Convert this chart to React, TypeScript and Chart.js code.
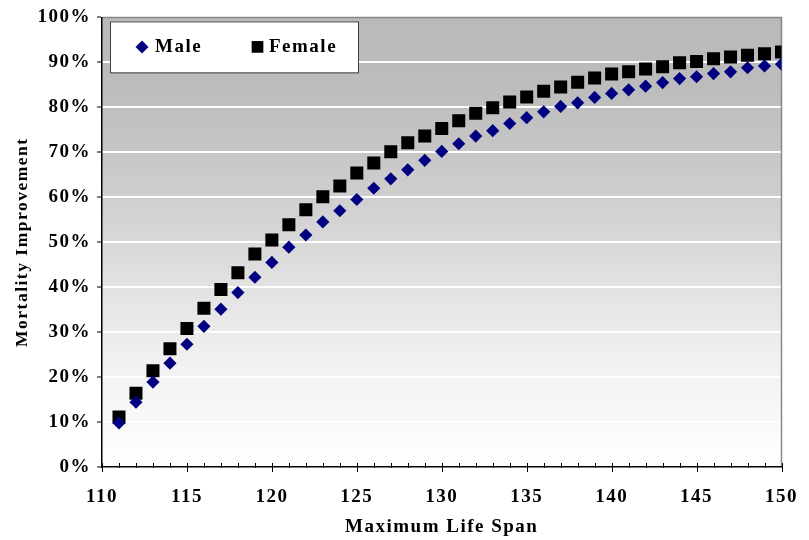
import React, { useEffect, useRef } from 'react';
import { Chart, registerables } from 'chart.js';

Chart.register(...registerables);

const lifeSpans = [
  111, 112, 113, 114, 115, 116, 117, 118, 119, 120,
  121, 122, 123, 124, 125, 126, 127, 128, 129, 130,
  131, 132, 133, 134, 135, 136, 137, 138, 139, 140,
  141, 142, 143, 144, 145, 146, 147, 148, 149, 150,
];

const maleValues = [
  9.8, 14.4, 18.9, 23.1, 27.3, 31.3, 35.1, 38.8, 42.2, 45.5,
  48.9, 51.6, 54.5, 57.0, 59.5, 62.0, 64.1, 66.1, 68.2, 70.2,
  71.9, 73.6, 74.8, 76.4, 77.7, 79.0, 80.2, 81.0, 82.2, 83.1,
  83.9, 84.7, 85.5, 86.4, 86.8, 87.5, 87.9, 88.8, 89.2, 89.6,
];

const femaleValues = [
  11.1, 16.4, 21.4, 26.3, 30.8, 35.3, 39.5, 43.2, 47.4, 50.5,
  53.9, 57.2, 60.1, 62.5, 65.4, 67.6, 70.1, 72.1, 73.6, 75.3,
  77.0, 78.7, 79.9, 81.2, 82.3, 83.6, 84.5, 85.6, 86.5, 87.4,
  87.9, 88.5, 89.0, 89.9, 90.2, 90.8, 91.2, 91.6, 91.9, 92.3,
];

const seriesLabels = ['Male', 'Female'];
const xAxisRange = [110, 150];
const xMajorStep = 5;
const yAxisRange = [0, 100];
const yStep = 10;
const xTitle = 'Maximum Life Span';
const yTitle = 'Mortality Improvement';

const FONT = "'Liberation Serif', 'Times New Roman', serif";
const SPACING = '1.5px';

const stylePlugin = {
  id: 'excelStyle',
  beforeUpdate(chart: any) {
    chart.ctx.letterSpacing = SPACING;
  },
  beforeLayout(chart: any) {
    chart.ctx.letterSpacing = SPACING;
  },
  beforeDraw(chart: any) {
    const { ctx, chartArea } = chart;
    ctx.letterSpacing = SPACING;
    const { left, top, right, bottom } = chartArea;
    ctx.save();
    const g = ctx.createLinearGradient(0, top, 0, bottom);
    g.addColorStop(0, '#b9b9b9');
    g.addColorStop(0.15, '#bcbcbc');
    g.addColorStop(0.3, '#c6c6c6');
    g.addColorStop(0.5, '#d8d8d8');
    g.addColorStop(0.62, '#e4e4e4');
    g.addColorStop(0.78, '#f2f2f2');
    g.addColorStop(1, '#ffffff');
    ctx.fillStyle = g;
    ctx.fillRect(left, top, right - left, bottom - top);
    ctx.restore();
  },
  beforeDatasetsDraw(chart: any) {
    const { ctx, chartArea } = chart;
    const { left, top, right, bottom } = chartArea;
    ctx.save();
    ctx.strokeStyle = '#888888';
    ctx.lineWidth = 1.5;
    ctx.beginPath();
    ctx.moveTo(left, top);
    ctx.lineTo(right, top);
    ctx.lineTo(right, bottom);
    ctx.stroke();
    const xs = chart.scales.x;
    ctx.strokeStyle = '#000000';
    ctx.lineWidth = 1;
    for (let v = xs.min; v <= xs.max; v += 1) {
      const px = Math.round(xs.getPixelForValue(v)) + 0.5;
      const major = v % xMajorStep === 0;
      ctx.beginPath();
      ctx.moveTo(px, bottom - 4);
      ctx.lineTo(px, bottom + (major ? 5 : 1));
      ctx.stroke();
    }
    ctx.restore();
  },
  afterDraw(chart: any) {
    const { ctx, chartArea } = chart;
    const { left, top } = chartArea;
    ctx.save();
    ctx.letterSpacing = SPACING;
    const bx = left + 8;
    const by = top + 4;
    const bw = 248;
    const bh = 51;
    ctx.fillStyle = '#ffffff';
    ctx.fillRect(bx, by, bw, bh);
    ctx.strokeStyle = '#404040';
    ctx.lineWidth = 1;
    ctx.strokeRect(bx + 0.5, by + 0.5, bw, bh);
    const cy = by + bh / 2;
    const ds = chart.data.datasets;
    const mx = bx + 32;
    const r = 6.5;
    ctx.fillStyle = ds[0].backgroundColor;
    ctx.beginPath();
    ctx.moveTo(mx - r, cy);
    ctx.lineTo(mx, cy - r);
    ctx.lineTo(mx + r, cy);
    ctx.lineTo(mx, cy + r);
    ctx.closePath();
    ctx.fill();
    ctx.font = `bold 19px ${FONT}`;
    ctx.textBaseline = 'middle';
    ctx.textAlign = 'left';
    ctx.fillStyle = '#000000';
    ctx.fillText(ds[0].label, bx + 45, cy);
    const fx = bx + 147.5;
    const s = 11.7;
    ctx.fillStyle = ds[1].backgroundColor;
    ctx.fillRect(fx - s / 2, cy - s / 2, s, s);
    ctx.fillStyle = '#000000';
    ctx.fillText(ds[1].label, bx + 159, cy);
    ctx.restore();
  },
};

export default function App() {
  const canvasRef = useRef<HTMLCanvasElement | null>(null);

  useEffect(() => {
    const canvas = canvasRef.current;
    if (!canvas) return;
    const chart = new Chart(canvas, {
      type: 'scatter',
      data: {
        datasets: [
          {
            label: seriesLabels[0],
            data: lifeSpans.map((x, i) => ({ x, y: maleValues[i] })),
            backgroundColor: '#000080',
            borderColor: '#000080',
            pointStyle: 'rectRot',
            pointRadius: 6.6,
            pointBorderWidth: 0,
          },
          {
            label: seriesLabels[1],
            data: lifeSpans.map((x, i) => ({ x, y: femaleValues[i] })),
            backgroundColor: '#000000',
            borderColor: '#000000',
            pointStyle: 'rect',
            pointRadius: 9.2,
            pointBorderWidth: 0,
          },
        ],
      },
      options: {
        responsive: false,
        animation: false,
        devicePixelRatio: 1,
        layout: { padding: { top: 17, right: 20, left: 0, bottom: 0 } },
        plugins: {
          legend: { display: false },
          tooltip: { enabled: false },
        },
        scales: {
          x: {
            type: 'linear',
            min: xAxisRange[0],
            max: xAxisRange[1],
            afterFit: (scale: any) => {
              scale.height = 73;
            },
            grid: { display: false, drawOnChartArea: false },
            border: { display: true, color: '#000000', width: 1.5, z: 1 },
            ticks: {
              stepSize: xMajorStep,
              autoSkip: false,
              maxRotation: 0,
              padding: 11,
              color: '#000000',
              font: { family: FONT, size: 19, weight: 'bold' },
              callback: (v: any) => String(v),
            },
            title: {
              display: true,
              text: xTitle,
              color: '#000000',
              font: { family: FONT, size: 19, weight: 'bold' },
              padding: { top: 0, bottom: 2 },
            },
          },
          y: {
            type: 'linear',
            min: yAxisRange[0],
            max: yAxisRange[1],
            afterFit: (scale: any) => {
              scale.width = 102;
            },
            grid: {
              color: (c: any) =>
                c.tick && (c.tick.value === yAxisRange[0] || c.tick.value === yAxisRange[1])
                  ? 'rgba(0,0,0,0)'
                  : '#ffffff',
              lineWidth: 2,
              tickColor: '#000000',
              tickWidth: 1,
              tickLength: 5,
              drawTicks: true,
            },
            border: { display: true, color: '#000000', width: 1.5, z: 1 },
            ticks: {
              stepSize: yStep,
              padding: 6,
              color: '#000000',
              font: { family: FONT, size: 19, weight: 'bold' },
              callback: (v: any) => `${v}%`,
            },
            title: {
              display: true,
              text: yTitle,
              color: '#000000',
              font: { family: FONT, size: 17.5, weight: 'bold' },
              padding: { top: 12, bottom: 0 },
            },
          },
        },
      },
      plugins: [stylePlugin],
    } as any);
    return () => chart.destroy();
  }, []);

  return (
    <div style={{ position: 'absolute', left: 0, top: 0, width: 809, height: 540, background: '#ffffff' }}>
      <canvas ref={canvasRef} width={809} height={540} style={{ display: 'block' }} />
    </div>
  );
}
